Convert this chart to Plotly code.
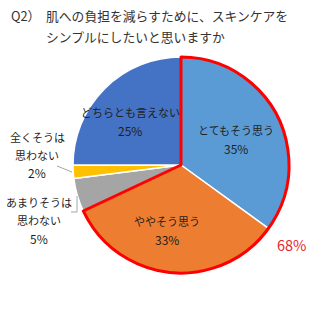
import plotly.graph_objects as go

# Survey answers, clockwise from 12 o'clock
labels = ["とてもそう思う", "ややそう思う", "あまりそうは思わない", "全くそうは思わない", "どちらとも言えない"]
values = [35, 33, 5, 2, 25]
colors = ["#5B9BD5", "#ED7D31", "#A5A5A5", "#FFC000", "#4472C4"]

title_prefix = "Q2）"
title_lines = ["肌への負担を減らすために、スキンケアを", "シンプルにしたいと思いますか"]

W, H = 329, 325
CX, CY, R = 181, 165, 108


def px(x):
    return x / W


def py(y):
    return 1 - y / H


dom_x = [px(CX - R), px(CX + R)]
dom_y = [py(CY + R), py(CY - R)]

fig = go.Figure()

# Main pie
fig.add_trace(go.Pie(
    labels=labels, values=values, sort=False, direction="clockwise", rotation=0,
    marker=dict(colors=colors, line=dict(color="white", width=1.5)),
    textinfo="none", hoverinfo="label+percent", showlegend=False,
    domain=dict(x=dom_x, y=dom_y),
))

# Red outline around the positive answers (first two slices combined)
positive = sum(values[:2])
rest = sum(values[2:])
fig.add_trace(go.Pie(
    values=[positive, rest], sort=False, direction="clockwise", rotation=0,
    marker=dict(colors=["rgba(0,0,0,0)", "rgba(0,0,0,0)"],
                line=dict(color=["#FF0000", "rgba(0,0,0,0)"], width=[3, 0])),
    textinfo="none", hoverinfo="skip", showlegend=False,
    domain=dict(x=dom_x, y=dom_y),
))

LABEL_FONT = dict(family="Noto Sans CJK JP", size=11, color="#1F1F1F")
PCT_FONT = dict(family="Noto Sans CJK JP", size=12, color="#1F1F1F")
annotations = []


def add_text(x, y, text, font=LABEL_FONT, xanchor="center"):
    annotations.append(dict(x=px(x), y=py(y), xref="paper", yref="paper", text=text,
                            showarrow=False, font=font, xanchor=xanchor, yanchor="middle"))


# Title
TITLE_FONT = dict(family="Noto Sans CJK JP", size=12.8, color="#333333")
add_text(9, 15, title_prefix, TITLE_FONT, "left")
add_text(44, 15, title_lines[0], TITLE_FONT, "left")
add_text(44, 37, title_lines[1], TITLE_FONT, "left")

# Slice labels
add_text(236, 130, labels[0])
add_text(236, 148, f"{values[0]}%", PCT_FONT)
add_text(167, 221, labels[1])
add_text(167, 239, f"{values[1]}%", PCT_FONT)
add_text(39, 202, labels[2][:6])
add_text(39, 220, labels[2][6:])
add_text(39, 238, f"{values[2]}%", PCT_FONT)
add_text(37, 137, labels[3][:5])
add_text(37, 155, labels[3][5:])
add_text(37, 173, f"{values[3]}%", PCT_FONT)
add_text(130, 112, labels[4])
add_text(130, 130, f"{values[4]}%", PCT_FONT)

# Combined share of the outlined slices
add_text(291, 244, f"{positive}%", dict(family="Noto Sans CJK JP", size=14.5, color="#E8262A"))

# Leader lines for the small slices
line_style = dict(color="#A6A6A6", width=1)
shapes = [
    dict(type="line", xref="paper", yref="paper", x0=px(57), y0=py(166), x1=px(72), y1=py(172), line=line_style),
    dict(type="line", xref="paper", yref="paper", x0=px(77), y0=py(196), x1=px(77), y1=py(212), line=line_style),
    dict(type="line", xref="paper", yref="paper", x0=px(71), y0=py(212), x1=px(77), y1=py(212), line=line_style),
]

fig.update_layout(
    width=W, height=H, margin=dict(l=0, r=0, t=0, b=0),
    paper_bgcolor="white", plot_bgcolor="white",
    annotations=annotations, shapes=shapes,
)

fig.write_html("out.html")
